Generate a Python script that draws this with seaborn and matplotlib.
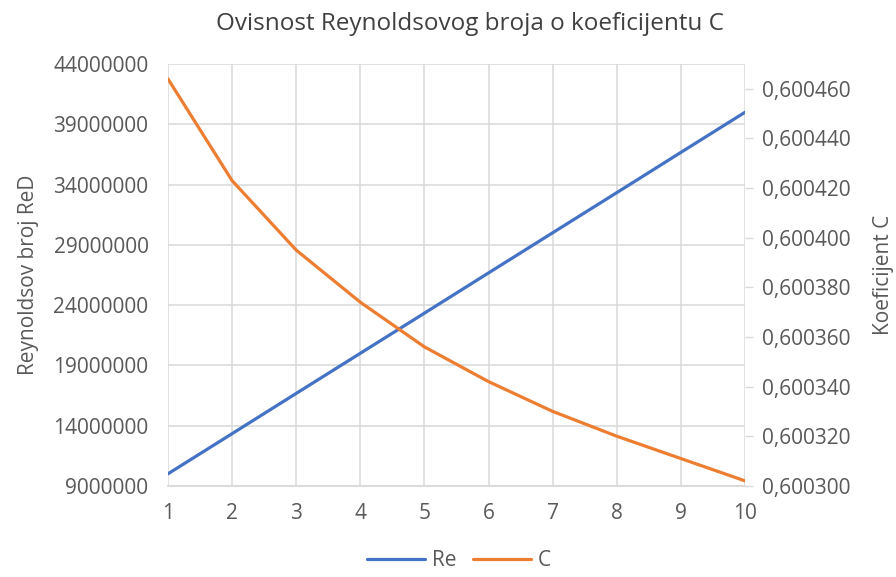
import numpy as np
import pandas as pd
import seaborn as sns
import matplotlib.pyplot as plt
from matplotlib.lines import Line2D

x_vals = [1, 2, 3, 4, 5, 6, 7, 8, 9, 10]
re_vals = [10.0e6, 13.33e6, 16.67e6, 20.0e6, 23.33e6, 26.67e6, 30.0e6, 33.33e6, 36.67e6, 40.0e6]
c_vals = [0.600464, 0.600423, 0.600395, 0.600374, 0.600356,
          0.600342, 0.600330, 0.600320, 0.600311, 0.600302]

df = pd.DataFrame({"x": x_vals, "Re": re_vals, "C": c_vals})

sns.set_style("white")
plt.rcParams['font.family'] = ['Open Sans', 'DejaVu Sans']

blue = "#4472C4"
orange = "#ED7D31"
txt = "#595959"
fs = 15

fig = plt.figure(figsize=(8.96, 5.77), dpi=100)
ax = fig.add_axes([0.1875, 0.158, 0.644, 0.731])
ax2 = ax.twinx()

sns.lineplot(data=df, x="x", y="Re", ax=ax, color=blue, linewidth=2.3)
sns.lineplot(data=df, x="x", y="C", ax=ax2, color=orange, linewidth=2.3)

ax.set_xlim(1, 10)
ax.set_ylim(9000000, 44000000)
ax.set_yticks(np.arange(9000000, 44000001, 5000000))
ax.set_yticklabels([str(v) for v in range(9000000, 44000001, 5000000)])
ax.set_xticks(x_vals)
ax.grid(True, color="#D9D9D9", linewidth=1.1)
ax.set_axisbelow(True)

ax2.set_ylim(0.6003, 0.60047)
c_ticks = np.arange(0.600300, 0.6004601, 0.00002)
ax2.set_yticks(c_ticks)
ax2.set_yticklabels([f"{t:.6f}".replace(".", ",") for t in c_ticks])
ax2.grid(False)

for a in (ax, ax2):
    for s in a.spines.values():
        s.set_visible(False)
ax.spines["bottom"].set_visible(True)
ax.spines["bottom"].set_color("#D9D9D9")
ax.spines["bottom"].set_linewidth(1.3)

ax.tick_params(axis="y", length=0, labelsize=fs, colors=txt, pad=14)
ax.tick_params(axis="x", length=0, labelsize=fs, colors=txt, pad=12)
ax2.tick_params(axis="y", length=6, width=1, color="#D9D9D9", labelsize=fs,
                labelcolor=txt, pad=6, direction="out")

ax.set_xlabel("")
ax.set_ylabel("Reynoldsov broj ReD", fontsize=fs, color=txt, labelpad=10)
ax2.set_ylabel("Koeficijent C", fontsize=fs, color=txt, labelpad=16)

fig.suptitle("Ovisnost Reynoldsovog broja o koeficijentu C", fontsize=17.5,
             color="#404040", x=0.525, y=0.98)

handles = [Line2D([], [], color=blue, linewidth=2.3),
           Line2D([], [], color=orange, linewidth=2.3)]
fig.legend(handles, ["Re", "C"], loc="lower center", bbox_to_anchor=(0.512, -0.022),
           ncol=2, frameon=False, fontsize=fs, labelcolor=txt,
           handlelength=2.8, columnspacing=0.8, handletextpad=0.3)

fig.savefig("out.png", dpi=100)
